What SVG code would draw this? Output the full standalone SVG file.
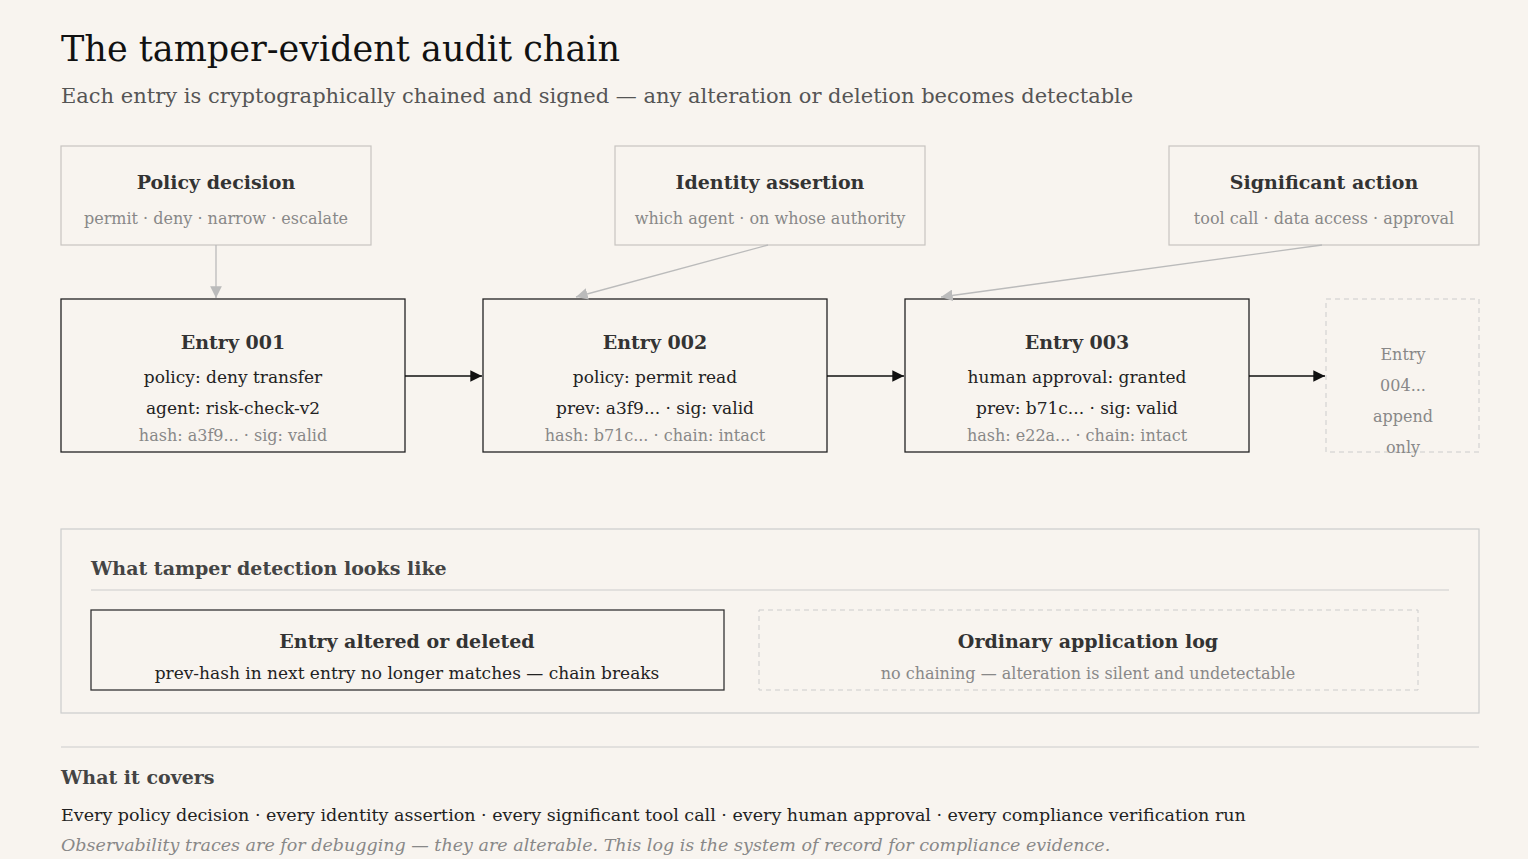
<svg xmlns="http://www.w3.org/2000/svg" width="1528" height="859" viewBox="0 0 1528 859">
<defs>
<style>
text{font-family:"DejaVu Serif","Liberation Serif",serif;}
.t{font-size:19px;font-weight:bold;fill:#333;text-anchor:middle}
.s{font-size:16px;fill:#888;text-anchor:middle}
.b{font-size:17px;fill:#222;text-anchor:middle}
.g{font-size:16px;fill:#888;text-anchor:middle}
.src{fill:#f8f4ef;stroke:#c8c4c0;stroke-width:1.2}
.ent{fill:#f8f4ef;stroke:#222;stroke-width:1.3}
</style>
<marker id="ab" viewBox="0 0 10 10" refX="10" refY="5" markerWidth="9" markerHeight="9" orient="auto"><path d="M0,0L10,5L0,10z" fill="#111"/></marker>
<marker id="ag" viewBox="0 0 10 10" refX="10" refY="5" markerWidth="9" markerHeight="9" orient="auto"><path d="M0,0L10,5L0,10z" fill="#bbb"/></marker>
</defs>
<rect width="1528" height="859" fill="#f8f4ef"/>
<text x="61" y="61" font-size="35" fill="#111">The tamper-evident audit chain</text>
<text x="61" y="103" font-size="21" fill="#555">Each entry is cryptographically chained and signed — any alteration or deletion becomes detectable</text>

<g id="policy"><rect class="src" x="61" y="146" width="310" height="99"/><text class="t" x="216" y="189">Policy decision</text><text class="s" x="216" y="224">permit · deny · narrow · escalate</text></g>
<g id="identity"><rect class="src" x="615" y="146" width="310" height="99"/><text class="t" x="770" y="189">Identity assertion</text><text class="s" x="770" y="224">which agent · on whose authority</text></g>
<g id="action"><rect class="src" x="1169" y="146" width="310" height="99"/><text class="t" x="1324" y="189">Significant action</text><text class="s" x="1324" y="224">tool call · data access · approval</text></g>

<g id="e1"><rect class="ent" x="61" y="299" width="344" height="153"/><text class="t" x="233" y="349" fill="#111">Entry 001</text><text class="b" x="233" y="383">policy: deny transfer</text><text class="b" x="233" y="414">agent: risk-check-v2</text><text class="g" x="233" y="441">hash: a3f9... · sig: valid</text></g>
<g id="e2"><rect class="ent" x="483" y="299" width="344" height="153"/><text class="t" x="655" y="349">Entry 002</text><text class="b" x="655" y="383">policy: permit read</text><text class="b" x="655" y="414">prev: a3f9... · sig: valid</text><text class="g" x="655" y="441">hash: b71c... · chain: intact</text></g>
<g id="e3"><rect class="ent" x="905" y="299" width="344" height="153"/><text class="t" x="1077" y="349">Entry 003</text><text class="b" x="1077" y="383">human approval: granted</text><text class="b" x="1077" y="414">prev: b71c... · sig: valid</text><text class="g" x="1077" y="441">hash: e22a... · chain: intact</text></g>
<g id="e4"><rect x="1326" y="299" width="153" height="153" fill="none" stroke="#ccc" stroke-dasharray="5,4"/><text class="g" x="1403" y="360" font-size="17">Entry</text><text class="g" x="1403" y="391" font-size="17">004...</text><text class="g" x="1403" y="422" font-size="17">append</text><text class="g" x="1403" y="453" font-size="17">only</text></g>

<g id="connectors" fill="none">
<line x1="405" y1="376" x2="482" y2="376" stroke="#111" stroke-width="1.3" marker-end="url(#ab)"/>
<line x1="827" y1="376" x2="904" y2="376" stroke="#111" stroke-width="1.3" marker-end="url(#ab)"/>
<line x1="1249" y1="376" x2="1325" y2="376" stroke="#111" stroke-width="1.3" marker-end="url(#ab)"/>
<line x1="216" y1="245" x2="216" y2="298" stroke="#bbb" stroke-width="1.3" marker-end="url(#ag)"/>
<line x1="768" y1="245" x2="576" y2="297" stroke="#bbb" stroke-width="1.3" marker-end="url(#ag)"/>
<line x1="1322" y1="245" x2="941" y2="297" stroke="#bbb" stroke-width="1.3" marker-end="url(#ag)"/>
</g>

<g id="panel">
<rect x="61" y="529" width="1418" height="184" fill="none" stroke="#ccc" stroke-width="1.2"/>
<text x="91" y="575" font-size="19" font-weight="bold" fill="#444">What tamper detection looks like</text>
<line x1="91" y1="590" x2="1449" y2="590" stroke="#ccc"/>
</g>
<g id="altered"><rect x="91" y="610" width="633" height="80" fill="none" stroke="#333" stroke-width="1.3"/><text class="t" x="407" y="648" fill="#111">Entry altered or deleted</text><text class="b" x="407" y="679" font-size="16.5">prev-hash in next entry no longer matches — chain breaks</text></g>
<g id="ordinary"><rect x="759" y="610" width="659" height="80" fill="none" stroke="#ccc" stroke-dasharray="5,4"/><text class="t" x="1088" y="648" fill="#999">Ordinary application log</text><text class="s" x="1088" y="679" font-size="16.5" fill="#999">no chaining — alteration is silent and undetectable</text></g>

<line x1="61" y1="747" x2="1479" y2="747" stroke="#ccc"/>
<text x="61" y="784" font-size="19" font-weight="bold" fill="#444">What it covers</text>
<text x="61" y="821" font-size="17.5" fill="#222">Every policy decision · every identity assertion · every significant tool call · every human approval · every compliance verification run</text>
<text x="61" y="851" font-size="17.5" font-style="italic" fill="#888">Observability traces are for debugging — they are alterable. This log is the system of record for compliance evidence.</text>
</svg>
